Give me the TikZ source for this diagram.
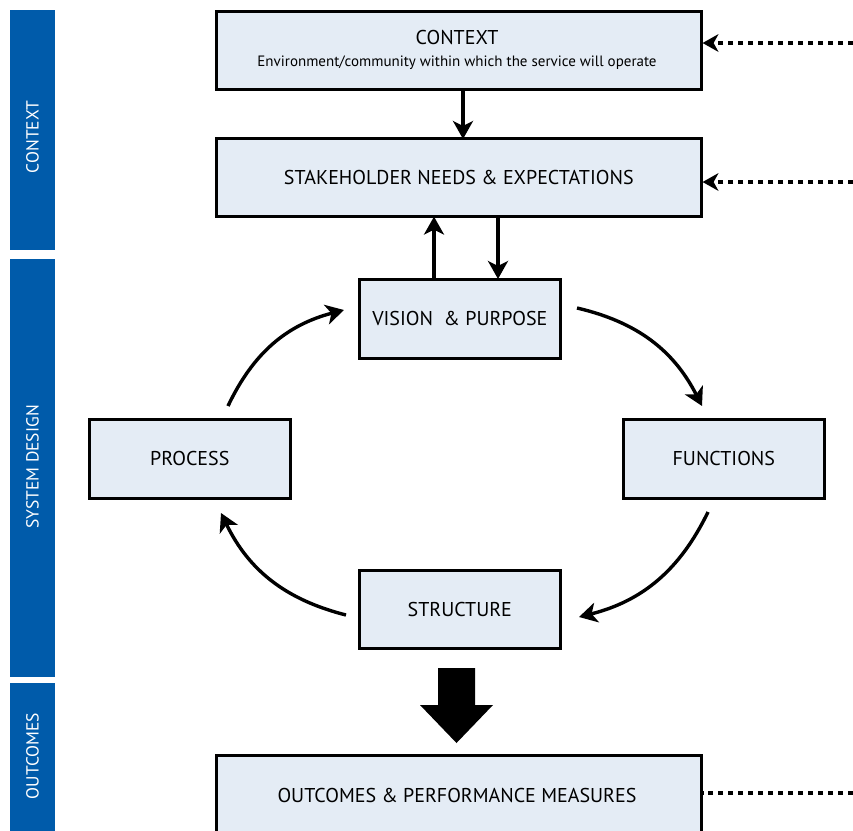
\documentclass[tikz,border=0pt]{standalone}
\usepackage{fontspec}
\setmainfont{PT Sans}
\usetikzlibrary{arrows.meta}
\definecolor{bandblue}{HTML}{005BAA}
\definecolor{boxfill}{HTML}{E4ECF5}
\tikzset{
  box/.style={draw=black, line width=2.6pt, fill=boxfill, inner sep=0pt, font=\fontsize{20}{24}\selectfont},
  band/.style={fill=bandblue, draw=none},
  bandlabel/.style={rotate=90, text=white, font=\fontsize{17.5}{21}\selectfont},
  boxtext/.style={font=\fontsize{20}{24}\selectfont},
  flow/.style={line width=3.4pt, -{Stealth[length=18pt,width=20pt,inset=5pt]}},
  dotline/.style={line width=4pt, dash pattern=on 5pt off 5pt},
  dotarrow/.style={dotline, -{Stealth[length=16pt,width=18pt,inset=5pt,line width=0pt]}}
}
\begin{document}
\begin{tikzpicture}[x=1pt,y=-1pt]
\useasboundingbox (0,0) rectangle (853,830);
\clip (0,0) rectangle (853,830);
% side bands
\fill[band] (10,10) rectangle (55,250);
\fill[band] (10,259) rectangle (55,677);
\fill[band] (10,683) rectangle (55,836);
\node[bandlabel] (lc) at (32.5,137) {CONTEXT};
\node[bandlabel] (ls) at (32.5,467) {SYSTEM DESIGN};
\node[bandlabel] (lo) at (32.5,756) {OUTCOMES};
% boxes
\node[box, anchor=north west, minimum width=485pt, minimum height=78pt] (ctx) at (215,10) {};
\node[boxtext] (ctxt) at (457,37) {CONTEXT};
\node[font=\fontsize{15}{18}\selectfont] (ctxs) at (457,63) {Environment/community within which the service will operate};
\node[box, anchor=north west, minimum width=485pt, minimum height=78pt] (stk) at (215,137) {STAKEHOLDER NEEDS \& EXPECTATIONS};
\node[box, anchor=north west, minimum width=201pt, minimum height=79pt] (vis) at (358,278) {VISION \ \& PURPOSE};
\node[box, anchor=north west, minimum width=201pt, minimum height=79pt] (pro) at (88,418) {PROCESS};
\node[box, anchor=north west, minimum width=201pt, minimum height=79pt] (fun) at (622,418) {FUNCTIONS};
\node[box, anchor=north west, minimum width=201pt, minimum height=78pt] (str) at (358,569) {STRUCTURE};
\node[box, anchor=north west, minimum width=485pt, minimum height=82pt] (out) at (215,754) {};
\node[boxtext] (outt) at (457,795) {OUTCOMES \& PERFORMANCE MEASURES};
% straight arrows
\draw[flow] (ctx.south -| 463,0) -- ([yshift=-2pt]stk.north -| 463,0);
\draw[flow] (stk.south -| 498,0) -- ([yshift=-1pt]vis.north -| 498,0);
\draw[flow] (vis.north -| 434,0) -- ([yshift=1pt]stk.south -| 434,0);
% cycle arrows
\coordinate (a1) at (577,308);
\coordinate (a2) at (702,406);
\coordinate (b1) at (708,512);
\coordinate (b2) at (579,617);
\coordinate (c1) at (346,615);
\coordinate (c2) at (221,513);
\coordinate (d1) at (228,406);
\coordinate (d2) at (344,310);
\draw[flow] (a1) to[bend left=25] (a2);
\draw[flow] (b1) to[bend left=25] (b2);
\draw[flow] (c1) to[bend left=25] (c2);
\draw[flow] (d1) to[bend left=25] (d2);
% big arrow
\fill (438,668) -- (475,668) -- (475,705) -- (493,705) -- (456.5,743) -- (420,705) -- (438,705) -- cycle;
% dotted inputs
\coordinate (e1) at (853,43);
\coordinate (e2) at (853,182);
\coordinate (e3) at (853,793);
\draw[dotarrow] (e1) -- (ctx.east |- e1);
\draw[dotarrow] (e2) -- (stk.east |- e2);
\draw[dotline] (e3) -- (out.east |- e3);
\end{tikzpicture}
\end{document}
